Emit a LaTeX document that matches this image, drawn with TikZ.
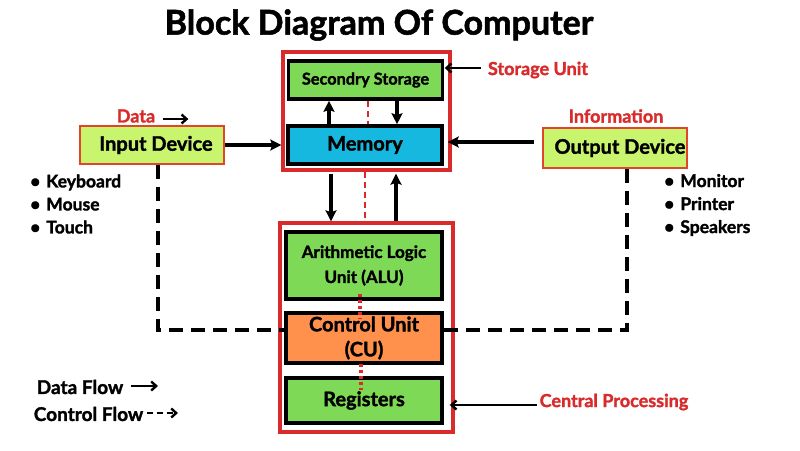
\documentclass[tikz,border=0pt]{standalone}
\usepackage{fontspec}
\setmainfont{Lato}[BoldFeatures={FakeBold=1.6}]
\usetikzlibrary{arrows.meta,calc,positioning}
\definecolor{cgreen}{HTML}{7ED957}
\definecolor{ccyan}{HTML}{17B8E0}
\definecolor{corange}{HTML}{FF914D}
\definecolor{clime}{HTML}{C9F56E}
\definecolor{cred}{HTML}{D92B2B}
\definecolor{cborder}{HTML}{E0442A}
\newcommand{\fs}[1]{\bfseries\fontsize{#1}{#1}\selectfont}
\begin{document}
\begin{tikzpicture}[x=1pt,y=-1pt,
  blk/.style={draw=black,line width=3.6pt,minimum width=154pt,inner sep=0pt,align=center},
  unit/.style={draw=cred,line width=3.4pt,inner sep=0pt},
  dev/.style={draw=cborder,fill=clime,line width=2.8pt,minimum width=144pt,inner sep=0pt,font=\fs{20}},
  lbl/.style={text=cred,font=\fs{18},inner sep=0pt},
  flow/.style={-{Stealth[length=11pt,width=11pt,inset=2pt]},line width=3.5pt},
  sarrow/.style={-{Straight Barb[length=5pt,width=9pt]},line width=2.4pt},
  ctrl/.style={line width=3.8pt,dash pattern=on 14pt off 8pt},
  rdash/.style={draw=cred,line width=2.8pt,dash pattern=on 6pt off 4pt},
  rdot/.style={draw=cred,line width=3.2pt,dash pattern=on 3pt off 3pt}
]
\useasboundingbox[fill=white] (0,0) rectangle (800,450);

\node[font=\fs{34},inner sep=0pt] (title) at (379,25) {Block Diagram Of Computer};

% storage unit
\node[unit,minimum width=167pt,minimum height=118pt] (storage) at (366.5,111) {};
\node[blk,fill=cgreen,minimum height=38pt,font=\fs{16.3}] (sec) at (365.5,80) {Secondry Storage};
\node[blk,fill=ccyan,minimum height=38pt,font=\fs{20}] (mem) at (365,145) {Memory};

% cpu
\node[unit,minimum width=173pt,minimum height=209pt] (cpu) at (366.5,327.5) {};
\node[blk,fill=cgreen,minimum width=156pt,minimum height=67pt,font={\bfseries\fontsize{17}{25}\selectfont}] (alu) at (364,265.5) {Arithmetic Logic\\Unit (ALU)};
\node[blk,fill=corange,minimum width=156pt,minimum height=50pt,font={\bfseries\fontsize{20}{25}\selectfont}] (cu) at (364,338) {Control Unit\\(CU)};
\node[blk,fill=cgreen,minimum width=156pt,minimum height=45pt,font=\fs{20}] (reg) at (364,400.5) {Registers};

% devices
\node[dev,minimum height=38pt] (in) at (152,145) {\hspace*{8pt}Input Device};
\node[dev,minimum height=40pt] (out) at (615,148) {\hspace*{10pt}Output Device};

% bullet lists
\node[anchor=west,align=left,inner sep=0pt,font={\bfseries\fontsize{17.5}{23}\selectfont}] (inlist) at (30,204) {•\hspace{6pt}Keyboard\\•\hspace{6pt}Mouse\\•\hspace{6pt}Touch};
\node[anchor=west,align=left,inner sep=0pt,font={\bfseries\fontsize{17.5}{23}\selectfont}] (outlist) at (664,205) {•\hspace{6pt}Monitor\\•\hspace{6pt}Printer\\•\hspace{6pt}Speakers};

% labels
\node[lbl] (data) at (136,116) {Data};
\node[lbl] (info) at (616,116) {Information};
\node[lbl] (stlbl) at (538,70) {Storage Unit};
\node[lbl] (cplbl) at (614,402) {Central Processing};

% legend
\node[font=\fs{19},inner sep=0pt] (dflow) at (80,387) {Data Flow};
\node[font=\fs{19},inner sep=0pt] (cflow) at (88.5,414) {Control Flow};
\coordinate (dfe) at (158,386);
\coordinate (cfe) at (178,413);
\draw[sarrow] ($(dflow.east)+(8,-1)$) -- (dfe);
\draw[sarrow,dash pattern=on 6pt off 4pt] ($(cflow.east)+(4,-1)$) -- (cfe);

% data arrows
\coordinate (da) at ($(data.east)+(8,3)$);
\draw[sarrow] (da) -- ++(25,0);
\draw[flow] (in.east) -- (storage.west |- in.east);
\coordinate (oa) at ($(out.west)+(-8,-6)$);
\draw[flow,shorten >=-4pt] (oa) -- (oa -| storage.east);
\coordinate (sa) at ($(stlbl.west)+(-7,-2)$);
\draw[sarrow,shorten >=-7pt] (sa) -- (sa -| storage.east);
\coordinate (ca) at ($(cplbl.west)+(-3,3)$);
\draw[sarrow,shorten >=-5pt] (ca) -- (ca -| cpu.east);

\coordinate (x1) at (329,0);
\coordinate (x2) at (397,0);
\coordinate (x3) at (331,0);
\coordinate (x4) at (396,0);
\coordinate (x5) at (368,0);
\coordinate (x6) at (365,0);
\coordinate (x7) at (360,0);
\coordinate (x8) at (361,0);
\draw[flow] (mem.north -| x1) -- (sec.south -| x1);
\draw[flow] (sec.south -| x2) -- (mem.north -| x2);
\draw[flow,shorten <=2pt] (storage.south -| x3) -- (cpu.north -| x3);
\draw[flow,shorten >=2pt] (cpu.north -| x4) -- (storage.south -| x4);

\draw[rdash] (sec.south -| x5) -- (mem.north -| x5);
\draw[rdash] (storage.south -| x6) -- (cpu.north -| x6);
\draw[rdot,shorten <=-7pt,shorten >=-7pt] (alu.south -| x7) -- (cu.north -| x7);
\draw[rdot,shorten <=-1pt,shorten >=-14pt] (cu.south -| x8) -- (reg.north -| x8);

% control lines
\coordinate (lc) at (158,330);
\coordinate (rc) at (627,330);
\draw[ctrl] (in.south -| lc) -- (lc) -- (cu.west |- lc);
\draw[ctrl] (out.south -| rc) -- (rc) -- (cu.east |- rc);
\end{tikzpicture}
\end{document}
